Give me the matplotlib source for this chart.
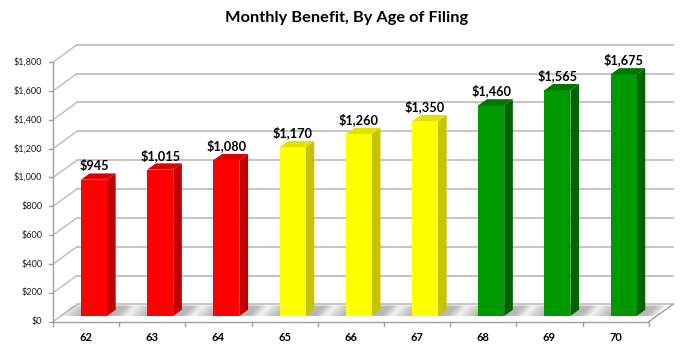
import numpy as np
import matplotlib.pyplot as plt
from matplotlib.patches import Polygon

plt.rcParams['font.family'] = ['Lato', 'DejaVu Sans']

# data
ages = ['62', '63', '64', '65', '66', '67', '68', '69', '70']
benefits = [945, 1015, 1080, 1170, 1260, 1350, 1460, 1565, 1675]
groups = ['red', 'red', 'red', 'yellow', 'yellow', 'yellow', 'green', 'green', 'green']
y_ticks = list(range(0, 2000, 200))

# face colours per group: front, side, top
front_col = {'red': '#FF0000', 'yellow': '#FFFF00', 'green': '#009900'}
side_col = {'red': '#C00000', 'yellow': '#C4C400', 'green': '#006400'}
top_col = {'red': '#DD0000', 'yellow': '#E2E200', 'green': '#007800'}

# fake 3d: offset of the back wall, in data units
DX, DY = 0.3625, 120
D0, D1 = 0.33, 0.69   # bar depth span
W = 0.393             # bar width
grid_col = '#BABABA'
axis_col = '#A0A0A0'

fig = plt.figure(figsize=(6.94, 3.5), dpi=100)
ax = fig.add_axes([0, 0, 1, 1])
ax.set_xlim(-1.3006, 9.183)
ax.set_ylim(-196.2, 2230.2)
ax.axis('off')

n = len(ages)
left, right = -0.5, n - 0.5

# back wall + side wall gridlines
for v in y_ticks:
    ax.plot([left + DX, right + DX], [v + DY, v + DY], color=grid_col, lw=1.2, zorder=1)
    ax.plot([left, left + DX], [v, v + DY], color=grid_col, lw=1.0, zorder=1)
    ax.plot([left - 0.06, left], [v, v], color=axis_col, lw=1.0, zorder=2)
    ax.text(left - 0.16, v, f'${v:,}', ha='right', va='center', fontsize=6.6, color='#1a1a1a')

# front y axis, floor edges, x ticks
ax.plot([left, left], [0, y_ticks[-1]], color=axis_col, lw=1.0, zorder=2)
ax.plot([left, right], [0, 0], color=axis_col, lw=1.0, zorder=2)
ax.plot([right, right + DX], [0, DY], color=axis_col, lw=1.0, zorder=2)
for i in range(n + 1):
    ax.plot([left + i, left + i], [0, -28], color=axis_col, lw=1.0, zorder=2)

for i, a in enumerate(ages):
    ax.text(i, -113, a, ha='center', va='center', fontsize=8, fontweight='bold')

x = np.arange(n) + D0 * DX

# soft floor shadows behind each bar
for xi in x:
    for k in range(7):
        xl = xi - W / 2 - 0.05 - k * 0.045
        xr = xi + W / 2 + (D1 - D0) * DX + 0.02 + k * 0.025
        poly = [(xl, D0 * DY), (xr, D0 * DY), (xr + (1 - D0) * DX * 0.6, DY * 0.93),
                (xl + (1 - D0) * DX * 0.6, DY * 0.93)]
        ax.add_patch(Polygon(poly, closed=True, color='#707070', alpha=0.09, lw=0, zorder=3))

# bar fronts
ax.bar(x, benefits, width=W, bottom=D0 * DY, color=[front_col[g] for g in groups],
       edgecolor='none', zorder=5)

dd = D1 - D0
for xi, v, g in zip(x, benefits, groups):
    xr = xi + W / 2
    base = D0 * DY
    side = [(xr, base), (xr + dd * DX, D1 * DY), (xr + dd * DX, v + D1 * DY), (xr, v + base)]
    top = [(xi - W / 2, v + base), (xr, v + base), (xr + dd * DX, v + D1 * DY),
           (xi - W / 2 + dd * DX, v + D1 * DY)]
    ax.add_patch(Polygon(side, closed=True, color=side_col[g], lw=0, zorder=4))
    ax.add_patch(Polygon(top, closed=True, color=top_col[g], lw=0, zorder=6))
    ax.text(xi, v + D1 * DY + 12, f'${v:,}', ha='center', va='bottom',
            fontsize=9.2, fontweight='bold', zorder=7)

fig.text(0.4996, 1 - 18 / 350, 'Monthly Benefit, By Age of Filing', ha='center', va='center',
         fontsize=11.8, fontweight='bold')

fig.savefig('out.png', dpi=100)
